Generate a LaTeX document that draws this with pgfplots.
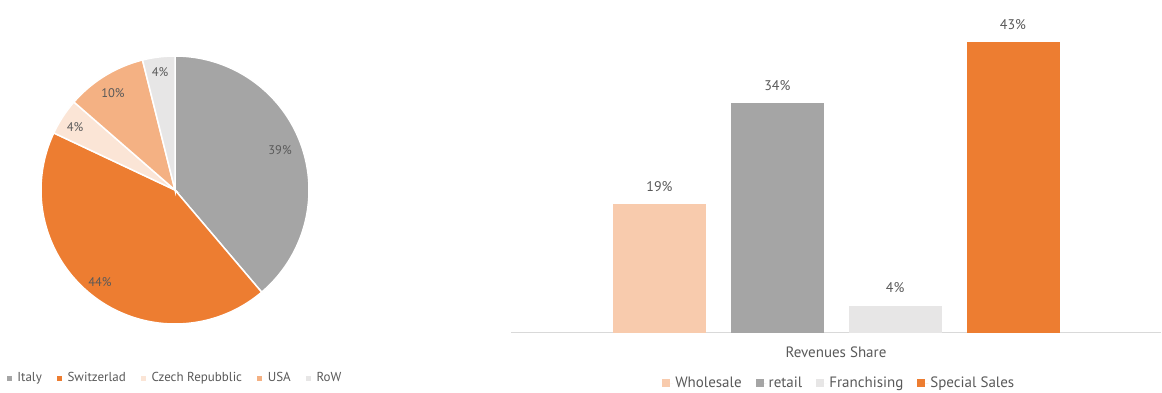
\documentclass[border=0pt]{standalone}
\usepackage{pgfplots}
\pgfplotsset{compat=1.18}
\usepackage{fontspec}
\setmainfont{PT Sans}
\definecolor{cgray}{HTML}{A5A5A5}
\definecolor{corange}{HTML}{ED7D31}
\definecolor{cczech}{HTML}{FBE5D6}
\definecolor{cusa}{HTML}{F4B183}
\definecolor{crow}{HTML}{E7E6E6}
\definecolor{cwhole}{HTML}{F8CBAD}
\definecolor{cfran}{HTML}{E7E6E6}
\definecolor{txt}{HTML}{595959}
\definecolor{axgray}{HTML}{D9D9D9}
\begin{document}
\begin{tikzpicture}
% pie shares (percent)
\def\pItaly{38.8}\def\pSwiss{43.2}\def\pCzech{4.4}\def\pUSA{9.7}\def\pRoW{3.9}
\pgfmathsetmacro\aA{90}
\pgfmathsetmacro\aB{\aA-3.6*\pItaly}
\pgfmathsetmacro\aC{\aB-3.6*\pSwiss}
\pgfmathsetmacro\aD{\aC-3.6*\pCzech}
\pgfmathsetmacro\aE{\aD-3.6*\pUSA}
\pgfmathsetmacro\aF{\aE-3.6*\pRoW}
\begin{axis}[
  at={(175pt,202pt)}, anchor=center,
  scale only axis, width=268pt, height=268pt,
  xmin=-1, xmax=1, ymin=-1, ymax=1,
  hide axis, clip=false,
  legend columns=5,
  legend image code/.code={\fill[#1,draw=none] (0pt,-2.5pt) rectangle (5pt,2.5pt); \path (5pt,0pt) -- (8pt,0pt);},
  legend style={draw=none, fill=none, text=txt, font=\fontsize{13}{15}\selectfont,
    at={(axis description cs:0.5,-0.2015)}, anchor=center,
    /tikz/every even column/.append style={column sep=13pt}},
]
\addplot[fill=cgray, draw=white, line width=1.5pt, domain=\aB:\aA, samples=80] ({cos(x)},{sin(x)}) -- (axis cs:0,0) -- cycle;
\addlegendentry{Italy}
\addplot[fill=corange, draw=white, line width=1.5pt, domain=\aC:\aB, samples=80] ({cos(x)},{sin(x)}) -- (axis cs:0,0) -- cycle;
\addlegendentry{Switzerlad}
\addplot[fill=cczech, draw=white, line width=1.5pt, domain=\aD:\aC, samples=20] ({cos(x)},{sin(x)}) -- (axis cs:0,0) -- cycle;
\addlegendentry{Czech Repubblic}
\addplot[fill=cusa, draw=white, line width=1.5pt, domain=\aE:\aD, samples=30] ({cos(x)},{sin(x)}) -- (axis cs:0,0) -- cycle;
\addlegendentry{USA}
\addplot[fill=crow, draw=white, line width=1.5pt, domain=\aF:\aE, samples=20] ({cos(x)},{sin(x)}) -- (axis cs:0,0) -- cycle;
\addlegendentry{RoW}
\begin{scope}[every node/.style={text=txt, font=\fontsize{12.5}{14}\selectfont}]
\node at (axis cs:0.784,0.30) {39\%};
\node at (axis cs:-0.56,-0.687) {44\%};
\node at (axis cs:-0.746,0.47) {4\%};
\node at (axis cs:-0.463,0.724) {10\%};
\node at (axis cs:-0.112,0.88) {4\%};
\end{scope}
\end{axis}
\begin{axis}[
  at={(511pt,59.3pt)}, anchor=south west,
  scale only axis, width=650pt, height=324.5pt,
  xmin=-1.26, xmax=4.256, ymin=0, ymax=48,
  clip=false,
  axis x line*=bottom, hide y axis,
  x axis line style={draw=axgray, line width=1.5pt, -},
  xtick=\empty,
  xlabel={Revenues Share},
  xlabel style={at={(axis description cs:0.5,0)}, anchor=center, yshift=-20pt, text=txt, font=\fontsize{15}{17}\selectfont},
  ybar, bar width=93pt,
  nodes near coords={\pgfmathprintnumber[assume math mode=true]{\pgfplotspointmeta}\%},
  every node near coord/.append style={text=txt, font=\fontsize{14}{16}\selectfont, yshift=9pt},
  legend columns=4,
  legend image code/.code={\fill[#1,draw=none] (0pt,-4pt) rectangle (8pt,4pt); \path (8pt,0pt) -- (11pt,0pt);},
  legend style={draw=none, fill=none, text=txt, font=\fontsize{15}{17}\selectfont,
    at={(axis description cs:0.505,-0.155)}, anchor=center,
    /tikz/every even column/.append style={column sep=12pt}},
]
\addplot[fill=cwhole, draw=none, bar shift=0pt] coordinates {(0,19)};
\addlegendentry{Wholesale}
\addplot[fill=cgray, draw=none, bar shift=0pt] coordinates {(1,34)};
\addlegendentry{retail}
\addplot[fill=cfran, draw=none, bar shift=0pt] coordinates {(2,4)};
\addlegendentry{Franchising}
\addplot[fill=corange, draw=none, bar shift=0pt] coordinates {(3,43)};
\addlegendentry{Special Sales}
\end{axis}
\pgfresetboundingbox
\useasboundingbox (0pt,0pt) rectangle (1162pt,392pt);
\end{tikzpicture}
\end{document}
